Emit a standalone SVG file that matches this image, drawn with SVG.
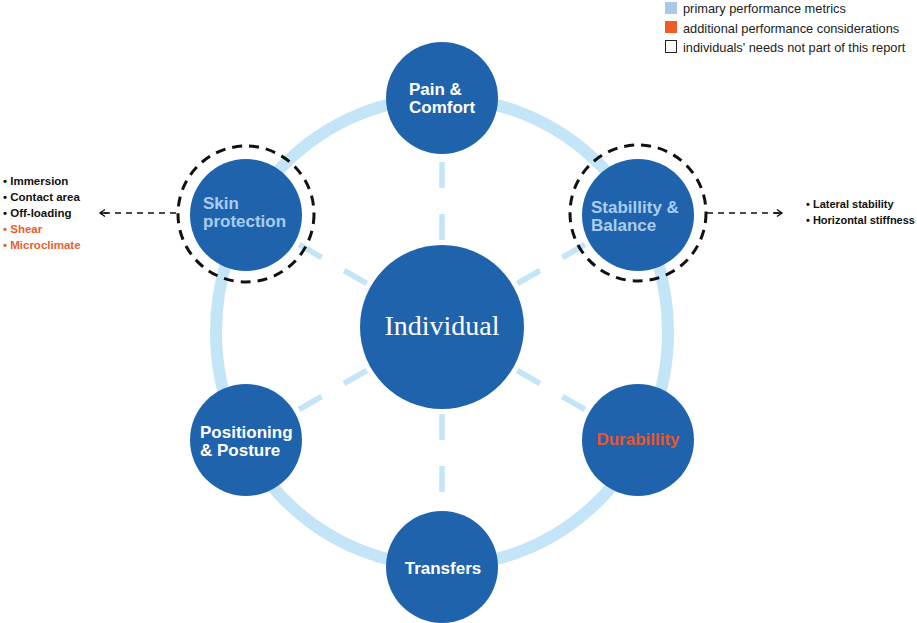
<svg xmlns="http://www.w3.org/2000/svg" width="917" height="623" viewBox="0 0 917 623">
<defs>
<style>
.node{fill:#1f63ad}
.lbl{font-family:"Liberation Sans",Arial,sans-serif;font-weight:bold;font-size:17px}
.w{fill:#ffffff}
.lb{fill:#a9cdf0}
.or{fill:#e8562b}
.spoke{stroke:#c4e4f7;stroke-width:5.5;fill:none}
.ring{stroke:#c4e4f7;stroke-width:12;fill:none}
.dring{stroke:#111;stroke-width:3;fill:none;stroke-dasharray:10 7}
.conn{stroke:#111;stroke-width:1.6;fill:none;stroke-dasharray:6 5}
.list{font-family:"Liberation Sans",Arial,sans-serif;font-size:11.5px;font-weight:bold;fill:#111}
.list2{font-family:"Liberation Sans",Arial,sans-serif;font-size:11.5px;font-weight:bold;fill:#e8602c}
.rlist{font-family:"Liberation Sans",Arial,sans-serif;font-size:11px;font-weight:bold;fill:#111}
.leg{font-family:"Liberation Sans",Arial,sans-serif;font-size:12.8px;fill:#222}
</style>
<marker id="arr" markerWidth="10" markerHeight="10" refX="8" refY="5" orient="auto" markerUnits="userSpaceOnUse">
<path d="M3,1.5 L8,5 L3,8.5 M0,5 L8,5" stroke="#111" stroke-width="1.4" fill="none"/>
</marker>
</defs>
<rect width="917" height="623" fill="#ffffff"/>

<g id="legend">
<rect x="665" y="2" width="12" height="12" fill="#a8c8ea"/>
<text class="leg" x="683" y="13">primary performance metrics</text>
<rect x="665" y="21" width="12" height="12" fill="#f05a28"/>
<text class="leg" x="683" y="32.5">additional performance considerations</text>
<rect x="665.5" y="40.5" width="11" height="12" fill="#fff" stroke="#222" stroke-width="1"/>
<text class="leg" x="683" y="52">individuals' needs not part of this report</text>
</g>

<g id="ring">
<ellipse class="ring" cx="442" cy="332" rx="226" ry="234"/>
</g>

<g id="connectors">
<line class="spoke" x1="442" y1="240" x2="442" y2="214"/>
<line class="spoke" x1="442" y1="188" x2="442" y2="162"/>
<line class="spoke" x1="442" y1="414" x2="442" y2="440"/>
<line class="spoke" x1="442" y1="466" x2="442" y2="492"/>
<line class="spoke" x1="517.3" y1="283.5" x2="539.9" y2="270.5"/>
<line class="spoke" x1="562.4" y1="257.5" x2="584.9" y2="244.5"/>
<line class="spoke" x1="517.3" y1="370.5" x2="539.9" y2="383.5"/>
<line class="spoke" x1="562.4" y1="396.5" x2="584.9" y2="409.5"/>
<line class="spoke" x1="366.7" y1="370.5" x2="344.1" y2="383.5"/>
<line class="spoke" x1="321.6" y1="396.5" x2="299.1" y2="409.5"/>
<line class="spoke" x1="366.7" y1="283.5" x2="344.1" y2="270.5"/>
<line class="spoke" x1="321.6" y1="257.5" x2="299.1" y2="244.5"/>
<line class="conn" x1="176" y1="213" x2="100" y2="213" marker-end="url(#arr)"/>
<line class="conn" x1="707" y1="213" x2="782" y2="213" marker-end="url(#arr)"/>
</g>

<g id="individual">
<circle class="node" cx="442" cy="327" r="82"/>
<text x="442" y="335" text-anchor="middle" font-family="'Liberation Serif','Times New Roman',serif" font-size="28" fill="#ffffff">Individual</text>
</g>

<g id="pain-comfort">
<circle class="node" cx="442" cy="98" r="56"/>
<text class="lbl w" x="409" y="95">Pain &amp;</text>
<text class="lbl w" x="409" y="113">Comfort</text>
</g>

<g id="skin-protection">
<circle class="node" cx="246" cy="215" r="56"/>
<circle class="dring" cx="246" cy="214" r="68"/>
<text class="lbl lb" x="203" y="209">Skin</text>
<text class="lbl lb" x="203" y="227">protection</text>
</g>

<g id="stability-balance">
<circle class="node" cx="638" cy="215" r="56"/>
<circle class="dring" cx="638" cy="213" r="68"/>
<text class="lbl lb" x="591" y="213">Stabillity &amp;</text>
<text class="lbl lb" x="591" y="231">Balance</text>
</g>

<g id="positioning-posture">
<circle class="node" cx="246" cy="440" r="56"/>
<text class="lbl w" x="200" y="438">Positioning</text>
<text class="lbl w" x="200" y="456">&amp; Posture</text>
</g>

<g id="durability">
<circle class="node" cx="638" cy="440" r="56"/>
<text class="lbl or" x="638" y="445" text-anchor="middle">Durabillity</text>
</g>

<g id="transfers">
<circle class="node" cx="442" cy="567" r="56"/>
<text class="lbl w" x="443" y="574" text-anchor="middle">Transfers</text>
</g>

<g id="left-list">
<text class="list" x="3" y="185">• Immersion</text>
<text class="list" x="3" y="201">• Contact area</text>
<text class="list" x="3" y="217">• Off-loading</text>
<text class="list2" x="3" y="233">• Shear</text>
<text class="list2" x="3" y="249">• Microclimate</text>
</g>

<g id="right-list">
<text class="rlist" x="806" y="208">• Lateral stability</text>
<text class="rlist" x="806" y="224">• Horizontal stiffness</text>
</g>
</svg>
